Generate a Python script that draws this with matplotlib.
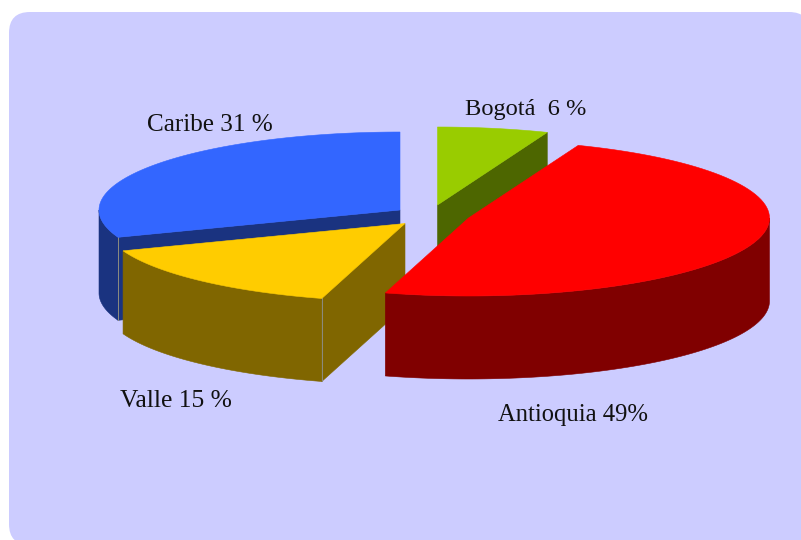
import numpy as np
import matplotlib
matplotlib.use("Agg")
import matplotlib.pyplot as plt
from matplotlib.patches import Polygon, FancyBboxPatch

# slices, going round from the top of the ellipse
labels = ["Caribe 31 %", "Valle 15 %", "Antioquia 49%", "Bogotá  6 %"]
values = [31, 15, 49, 6]
top_colors = ["#3366FF", "#FFCC00", "#FF0000", "#99CC00"]
side_colors = ["#1A3380", "#806600", "#800000", "#4D6600"]

# apex of each exploded slice, in pixels
centers = [(400, 210), (405, 223.5), (468.5, 218), (437.5, 205)]
label_pos = [(147, 131), (120, 407), (498.5, 420.5), (465, 115.5)]
label_size = [18.05, 18.4, 17.7, 17.6]

rx, ry = 301, 78
depth = 83

fig = plt.figure(figsize=(8.01, 5.40), dpi=100)
ax = fig.add_axes([0, 0, 1, 1])
ax.set_xlim(0, 801)
ax.set_ylim(540, 0)
ax.axis("off")

bg = FancyBboxPatch((9, 12), 801, 533, boxstyle="round,pad=0,rounding_size=21",
                    fc="#CCCCFF", ec="none")
ax.add_patch(bg)


def arc(c, a0, a1):
    t = np.radians(np.linspace(a0, a1, 90))
    return np.column_stack([c[0] + rx * np.cos(t), c[1] - ry * np.sin(t)])


def fill(pts, col, z):
    ax.add_patch(Polygon(pts, closed=True, fc=col, ec=col, lw=0.4, zorder=z))


# angles run counter clockwise from 90 deg
total = sum(values)
start = 90.0
slices = []
for v in values:
    end = start + v / total * 360
    slices.append((start, end))
    start = end

order = [3, 0, 1, 2]  # bogota first, antioquia last on top
cut_at_end = {0: 1, 1: 1, 3: 0}  # which edge of the slice shows its cut face
for z, i in enumerate(order):
    a0, a1 = slices[i]
    c = centers[i]
    zz = 2 + z
    # outer wall, only the rim below the middle of the ellipse shows
    lo = max(a0, 180)
    hi = min(a1, 360)
    if hi > lo:
        rim = arc(c, lo, hi)
        wall = np.vstack([rim, (rim + [0, depth])[::-1]])
        fill(wall, side_colors[i], zz)
    # cut face turned to the viewer
    if i in cut_at_end:
        ang = slices[i][cut_at_end[i]]
        p = arc(c, ang, ang)[0]
        face = [c, p, (p[0], p[1] + depth), (c[0], c[1] + depth)]
        fill(face, side_colors[i], zz)
        if i != 3:
            ax.plot([p[0], p[0]], [p[1], p[1] + depth], color="#8C8C80", lw=0.7,
                    zorder=zz + 0.5)
    top = np.vstack([[c], arc(c, a0, a1)])
    fill(top, top_colors[i], zz + 0.6)

for lab, (x, y), s in zip(labels, label_pos, label_size):
    ax.text(x, y, lab, family="Liberation Serif", fontsize=s, color="#111111",
            ha="left", va="baseline", zorder=20)

fig.savefig("out.png", dpi=100, facecolor="white")
